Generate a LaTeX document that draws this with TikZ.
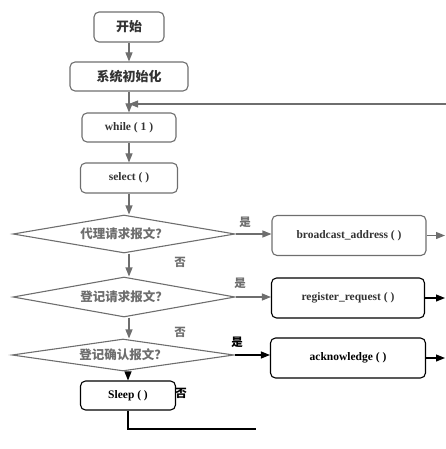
\documentclass[tikz,border=0pt]{standalone}
\usepackage{fontspec}
\setmainfont{Liberation Serif}
\newfontfamily\cjk{Noto Sans CJK SC}
\usetikzlibrary{shapes.geometric,arrows.meta}
\definecolor{lg}{HTML}{6E6E6E}
\begin{document}
\begin{tikzpicture}[x=1pt,y=-1pt,
  box/.style={draw=lg, line width=1.1pt, rounded corners=5pt, font=\bfseries\fontsize{11.5}{13}\selectfont, text=black!80, inner sep=0pt},
  cbox/.style={box, font=\cjk\bfseries\fontsize{13}{15}\selectfont},
  dia/.style={draw=lg, line width=1.1pt, shape=diamond, aspect=5.8, inner sep=0pt, minimum width=222pt, font=\cjk\bfseries\fontsize{12.5}{14}\selectfont, text=lg},
  arr/.style={draw=lg, line width=1.1pt, -{Triangle[length=9pt,width=7pt]}},
  barr/.style={arr, draw=black, fill=black},
  lbl/.style={font=\cjk\bfseries\fontsize{11.5}{13}\selectfont, inner sep=0pt, text=lg},
]
\useasboundingbox (0,0) rectangle (446,449);
\coordinate (edge) at (445,0);
\coordinate (loopin) at (446,104);
\coordinate (back) at (256,429);

\node[cbox, minimum width=70pt, minimum height=30pt] (start) at (129,27) {开始};
\node[cbox, minimum width=118pt, minimum height=29pt] (init) at (129,76.5) {系统初始化};
\node[box, minimum width=94pt, minimum height=29pt] (while) at (129,127.5) {while ( 1 )};
\node[box, minimum width=97pt, minimum height=30pt] (select) at (129,178) {select ( )};
\node[dia, minimum height=38pt] (d1) at (124,234) {代理请求报文？};
\node[box, minimum width=154pt, minimum height=40pt] (bc) at (349,235.5) {broadcast\_address ( )};
\node[dia, minimum height=40pt] (d2) at (124,297) {登记请求报文？};
\node[box, draw=black, minimum width=153pt, minimum height=40pt] (rr) at (348,298) {register\_request ( )};
\node[dia, minimum height=32pt] (d3) at (123,355) {登记确认报文？};
\node[box, draw=black, text=black, minimum width=155pt, minimum height=40pt] (ack) at (348,358) {acknowledge ( )};
\node[box, draw=black, text=black, minimum width=95pt, minimum height=29pt] (sleep) at (128,395.5) {Sleep ( )};

\draw[arr] (start) -- (init);
\draw[arr] (init) -- (while);
\draw[arr] (loopin) -- (loopin -| init);
\draw[arr] (while) -- (select);
\draw[arr] (select.south) -- (select.south |- d1.north);
\draw[arr] (d1.east) -- (d1.east -| bc.west);
\draw[arr] (bc.east) -- (bc.east -| edge);
\draw[arr] (d1.south -| select) -- (d2.north -| select);
\draw[arr] (d2.east) -- (d2.east -| rr.west);
\draw[barr] (rr.east) -- (rr.east -| edge);
\draw[arr] (d2.south -| select) -- (d3.north -| select);
\draw[barr] (d3.east) -- (d3.east -| ack.west);
\draw[barr] (ack.east) -- (ack.east -| edge);
\draw[barr] (d3.south -| sleep) -- (sleep.north);
\draw[black, line width=1.1pt] (sleep.south) |- (back);

\node[lbl] (y1) at (245,222) {是};
\node[lbl] (n1) at (180,262) {否};
\node[lbl] (y2) at (240,283) {是};
\node[lbl] (n2) at (180,332) {否};
\node[lbl, text=black] (y3) at (237,342) {是};
\node[lbl, text=black] (n3) at (181,393) {否};
\end{tikzpicture}
\end{document}
